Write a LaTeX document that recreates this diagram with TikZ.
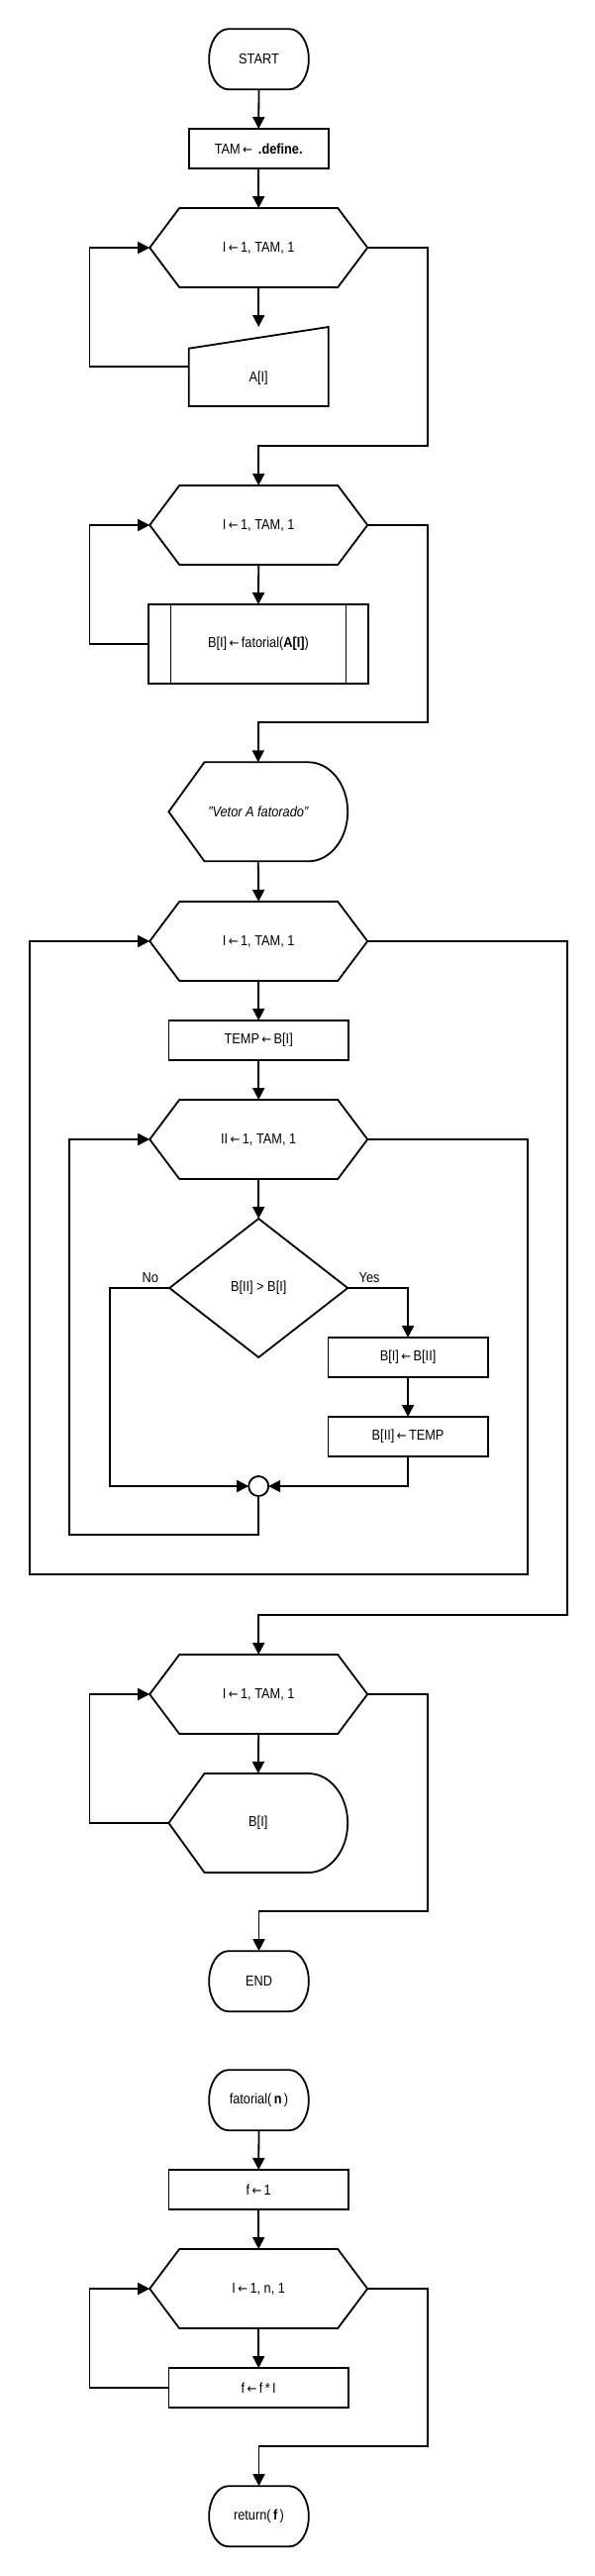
\documentclass[tikz,border=0pt]{standalone}
\usepackage{fontspec}
\setmainfont{Liberation Sans}[FakeStretch=0.88]
\newfontfamily\arrfont{DejaVu Sans}[FakeStretch=0.9]
\usetikzlibrary{arrows.meta,calc}
\newcommand\fs{\fontsize{14.5}{17}\selectfont}
\newcommand\la{\,{\arrfont\fontsize{13}{15}\selectfont ←}\,}
\newcommand\hexshape[1]{\draw ([xshift=30pt]#1.north west) -- ([xshift=-30pt]#1.north east) -- (#1.east) -- ([xshift=-30pt]#1.south east) -- ([xshift=30pt]#1.south west) -- (#1.west) -- cycle;}
\newcommand\termshape[1]{\draw ([xshift=19.6pt]#1.north west) -- ([xshift=-19.6pt]#1.north east) arc[start angle=90,end angle=-90,x radius=19.6pt,y radius=30.5pt] -- ([xshift=19.6pt]#1.south west) arc[start angle=270,end angle=90,x radius=19.6pt,y radius=30.5pt] -- cycle;}
\newcommand\dispshape[1]{\draw (#1.west) -- ([xshift=36.1pt]#1.north west) -- ([xshift=-39.7pt]#1.north east) arc[start angle=90,end angle=-90,x radius=39.7pt,y radius=50pt] -- ([xshift=36.1pt]#1.south west) -- cycle;}
\begin{document}
\begin{tikzpicture}[x=1pt,y=-1pt,line width=1.8pt,line join=miter,
  nd/.style={inner sep=0pt,outer sep=0pt,font=\fs,align=center},
  procbox/.style={nd,draw,minimum width=181.5pt,minimum height=40pt},
  hexnode/.style={nd,minimum width=220pt,minimum height=80pt},
  termnode/.style={nd,minimum width=100.7pt,minimum height=61pt},
  dispnode/.style={nd,minimum width=180.8pt,minimum height=100pt},
  arr/.style={-{Triangle[length=12pt,width=12pt]}},
  lbl/.style={font=\fs,inner sep=0pt}]
\useasboundingbox (0,0) rectangle (600,2600);
% ---------- main program ----------
\node[termnode] (start) at (261.5,59.7) {START};
\termshape{start}
\node[procbox,minimum width=141.1pt] (tam) at (261.2,150) {TAM\la\ \textbf{.define.}};
\node[hexnode] (h1) at (261.2,250) {I\la 1, TAM, 1};
\hexshape{h1}
\node[nd,minimum width=141.1pt,minimum height=80pt] (a) at (261.2,370) {};
\draw (a.south west) -- ([yshift=-21.7pt]a.north west) -- (a.north east) -- (a.south east) -- cycle;
\node[lbl] (atxt) at (261.2,381.7) {A[I]};
\node[hexnode] (h2) at (261.2,530) {I\la 1, TAM, 1};
\hexshape{h2}
\node[nd,draw,minimum width=221.9pt,minimum height=80pt] (pp) at (261,650) {B[I]\la fatorial(\textbf{A[I]})};
\draw ([xshift=22.5pt]pp.north west) -- ([xshift=22.5pt]pp.south west);
\draw ([xshift=-22.5pt]pp.north east) -- ([xshift=-22.5pt]pp.south east);
\node[dispnode] (disp) at (260.8,819.3) {\itshape "Vetor A fatorado"};
\dispshape{disp}
\node[hexnode] (h3) at (261.2,950) {I\la 1, TAM, 1};
\hexshape{h3}
\node[procbox] (temp) at (261.2,1050) {TEMP\la B[I]};
\node[hexnode] (h4) at (261.2,1150) {II\la 1, TAM, 1};
\hexshape{h4}
\node[nd,minimum width=180pt,minimum height=140pt] (dia) at (261.2,1300) {B[II] > B[I]};
\draw (dia.north) -- (dia.east) -- (dia.south) -- (dia.west) -- cycle;
\node[lbl] (nolab) at ([xshift=-19.3pt,yshift=10pt]dia.west) {No};
\node[lbl] (yeslab) at ([xshift=21.9pt,yshift=10pt]dia.east) {Yes};
\node[procbox,minimum width=161.2pt] (b1) at (412.1,1370) {B[I]\la B[II]};
\node[procbox,minimum width=161.2pt] (b2) at (412.1,1450) {B[II]\la TEMP};
\node[circle,draw,minimum size=20pt,inner sep=0pt,outer sep=0pt] (circ) at (261.2,1500) {};
\node[hexnode] (h5) at (261.2,1710) {I\la 1, TAM, 1};
\hexshape{h5}
\node[dispnode] (disp2) at (260.8,1840) {B[I]};
\dispshape{disp2}
\node[termnode] (end) at (261.5,1999.7) {END};
\termshape{end}
% ---------- function ----------
\node[termnode] (fat) at (261.5,2119.7) {fatorial(\,\textbf{n}\,)};
\termshape{fat}
\node[procbox] (f1) at (261.2,2210) {f\la 1};
\node[hexnode] (h6) at (261.2,2310) {I\la 1, n, 1};
\hexshape{h6}
\node[procbox] (f2) at (261.2,2410) {f\la f\,*\,I};
\node[termnode] (ret) at (261.5,2539.7) {return(\,\textbf{f}\,)};
\termshape{ret}
% ---------- connectors ----------
\draw[arr] (start.south) -- (tam.north);
\draw[arr] (tam.south) -- (h1.north);
\draw[arr] (h1.south) -- (a.north);
\draw[arr] (a.west) -| ([xshift=-60.8pt]h1.west) -- (h1.west);
\draw[arr] (h1.east) -- ++(60.7,0) |- ([yshift=40pt]h2.north) -- (h2.north);
\draw[arr] (h2.south) -- (pp.north);
\draw[arr] (pp.west) -| ([xshift=-60.8pt]h2.west) -- (h2.west);
\draw[arr] (h2.east) -- ++(60.7,0) |- ([yshift=40pt]disp.north) -- (disp.north);
\draw[arr] (disp.south) -- (h3.north);
\draw[arr] (h3.south) -- (temp.north);
\draw[arr] (temp.south) -- (h4.north);
\draw[arr] (h4.south) -- (dia.north);
\draw[arr] (dia.west) -- ++(-60.4,0) |- (circ.west);
\draw[arr] (dia.east) -| (b1.north);
\draw[arr] (b1.south) -- (b2.north);
\draw[arr] (b2.south) |- (circ.east);
\draw[arr] (circ.south) -- ++(0,39.3) -| ([xshift=-81.2pt]h4.west) -- (h4.west);
\draw[arr] (h4.east) -- ++(161.5,0) -- ++(0,439.3) -| ([xshift=-121.2pt]h3.west) -- (h3.west);
\draw[arr] (h3.east) -- ++(201.9,0) |- ([yshift=40pt]h5.north) -- (h5.north);
\draw[arr] (h5.south) -- (disp2.north);
\draw[arr] (disp2.west) -| ([xshift=-60.8pt]h5.west) -- (h5.west);
\draw[arr] (h5.east) -- ++(60.7,0) |- ([yshift=40pt]end.north) -- (end.north);
\draw[arr] (fat.south) -- (f1.north);
\draw[arr] (f1.south) -- (h6.north);
\draw[arr] (h6.south) -- (f2.north);
\draw[arr] (f2.west) -| ([xshift=-60.8pt]h6.west) -- (h6.west);
\draw[arr] (h6.east) -- ++(60.7,0) |- ([yshift=40pt]ret.north) -- (ret.north);
\end{tikzpicture}
\end{document}
